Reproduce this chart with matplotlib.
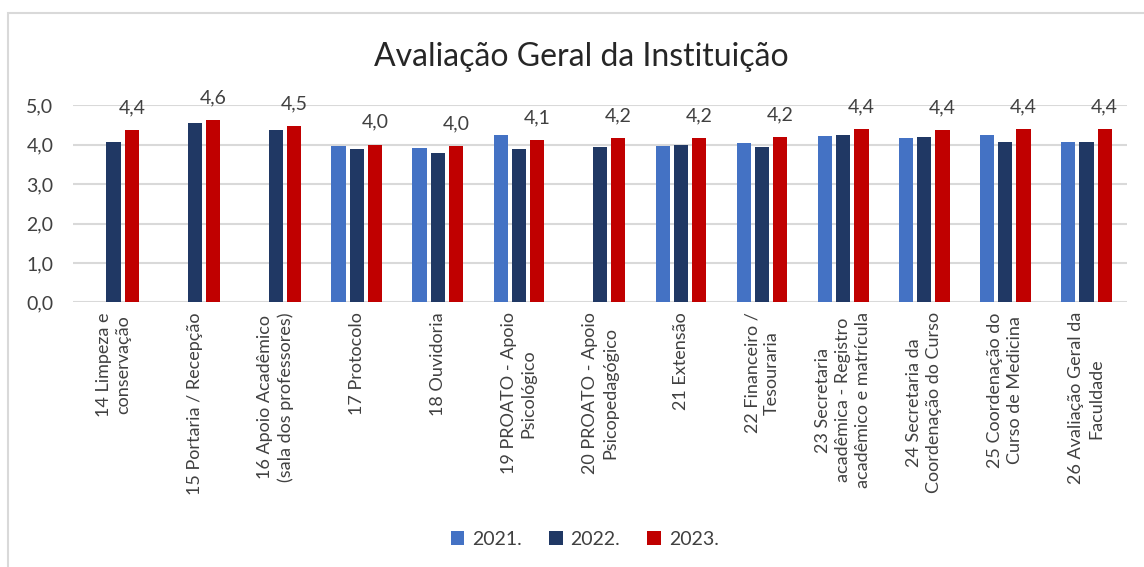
import numpy as np
import matplotlib.pyplot as plt
from matplotlib.patches import Rectangle

# Data
categories = [
    "14 Limpeza e\nconservação",
    "15 Portaria / Recepção",
    "16 Apoio Acadêmico\n(sala dos professores)",
    "17 Protocolo",
    "18 Ouvidoria",
    "19 PROATO - Apoio\nPsicológico",
    "20 PROATO - Apoio\nPsicopedagógico",
    "21 Extensão",
    "22 Financeiro /\nTesouraria",
    "23 Secretaria\nacadêmica - Registro\nacadêmico e matrícula",
    "24 Secretaria da\nCoordenação do Curso",
    "25 Coordenação do\nCurso de Medicina",
    "26 Avaliação Geral da\nFaculdade",
]
values_2021 = [np.nan, np.nan, np.nan, 3.97, 3.91, 4.25, np.nan, 3.97, 4.03, 4.21, 4.16, 4.25, 4.06]
values_2022 = [4.06, 4.55, 4.37, 3.89, 3.79, 3.89, 3.94, 4.00, 3.94, 4.25, 4.18, 4.06, 4.06]
values_2023 = [4.37, 4.61, 4.46, 4.00, 3.97, 4.12, 4.16, 4.16, 4.18, 4.40, 4.36, 4.40, 4.40]
series_names = ["2021.", "2022.", "2023."]
y_ticks = [0, 1, 2, 3, 4, 5]

plt.rcParams['font.family'] = ['Lato', 'DejaVu Sans']

fig = plt.figure(figsize=(11.44, 5.67), dpi=100)
ax = fig.add_axes([0.0638, 0.4665, 0.9213, 0.3483])

# light frame around the chart area
fig.patches.append(Rectangle((0.007, -0.05), 1.1, 1.027, transform=fig.transFigure,
                             fill=False, edgecolor='#d9d9d9', linewidth=1.5))

x = np.arange(len(categories))
bar_w = 0.175
step = 0.225
colors = ['#4472c4', '#203864', '#c00000']

ax.bar(x - step, values_2021, bar_w, color=colors[0], label=series_names[0], zorder=3)
ax.bar(x, values_2022, bar_w, color=colors[1], label=series_names[1], zorder=3)
bars_2023 = ax.bar(x + step, values_2023, bar_w, color=colors[2], label=series_names[2], zorder=3)

# data labels only on 2023 series
for rect, v in zip(bars_2023, values_2023):
    ax.annotate(f"{v:.1f}".replace('.', ','), (rect.get_x() + rect.get_width() / 2, v),
                xytext=(0, 16), textcoords='offset points', ha='center', va='center',
                fontsize=14, color='#404040', annotation_clip=False)

ax.set_xlim(-0.5, len(categories) - 0.5)
ax.set_ylim(0, 5)
ax.set_yticks(y_ticks)
ax.set_yticklabels([f"{t:.1f}".replace('.', ',') for t in y_ticks], fontsize=14, color='#404040')
ax.yaxis.grid(True, color='#d9d9d9', linewidth=1.5, zorder=0)
ax.set_axisbelow(True)

ax.set_xticks(x)
ax.set_xticklabels(categories, rotation=90, ha='center', va='top', multialignment='center',
                   fontsize=13, color='#404040', linespacing=1.3)
ax.tick_params(axis='both', length=0)
ax.tick_params(axis='x', pad=7)
ax.tick_params(axis='y', pad=14)
for side in ['top', 'right', 'left', 'bottom']:
    ax.spines[side].set_visible(False)

fig.text(0.508, 0.900, "Avaliação Geral da Instituição", ha='center', va='center',
         fontsize=23, color='#262626')

fig.legend(loc='center', bbox_to_anchor=(0.511, 0.049), ncol=3, frameon=False,
           fontsize=14, handlelength=0.7, handleheight=0.7, handletextpad=0.4,
           columnspacing=1.4, labelcolor='#404040')

fig.savefig('out.png', dpi=100)
